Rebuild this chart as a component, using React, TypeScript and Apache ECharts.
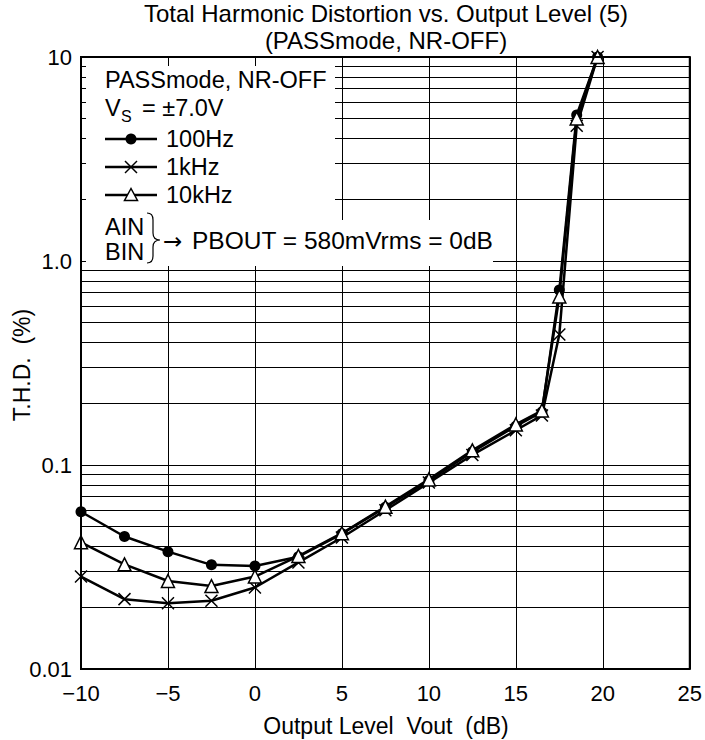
import React, { useEffect, useRef } from "react";
import * as echarts from "echarts";

// Output level (dB) at which each point was measured
const outputLevelDb = [-10, -7.5, -5, -2.5, 0, 2.5, 5, 7.5, 10, 12.5, 15, 16.5, 17.5, 18.5, 19.7];
// T.H.D. (%) series
const thd100Hz = [0.059, 0.0446, 0.0376, 0.0324, 0.032, 0.0355, 0.046, 0.062, 0.084, 0.116, 0.155, 0.182, 0.72, 5.2, 10];
const thd1kHz = [0.0284, 0.022, 0.021, 0.0216, 0.0251, 0.0333, 0.0441, 0.06, 0.082, 0.112, 0.148, 0.175, 0.436, 4.6, 10];
const thd10kHz = [0.0418, 0.0326, 0.027, 0.0255, 0.0284, 0.0358, 0.0463, 0.0625, 0.085, 0.118, 0.158, 0.185, 0.67, 5.0, 10];
// minor log grid lines
const minorGridValues = [
  0.02, 0.03, 0.04, 0.05, 0.06, 0.07, 0.08, 0.09,
  0.2, 0.3, 0.4, 0.5, 0.6, 0.7, 0.8, 0.9,
  2, 3, 4, 5, 6, 7, 8, 9,
];
const yTickLabels: Record<string, string> = { "0.01": "0.01", "0.1": "0.1", "1": "1.0", "10": "10" };

const FONT = '"Liberation Sans", Arial, Helvetica, sans-serif';

echarts.graphic.registerShape(
  "brace",
  echarts.graphic.extendPath("M0,0 Q6,0 6,7 L6,20 Q6,27 13,27 Q6,27 6,34 L6,43 Q6,50 0,50", {})
);

function txt(text: string, x: number, y: number, size: number, align = "left", extra: any = {}, family = FONT) {
  return {
    type: "text",
    x,
    y,
    z: 60,
    ...extra,
    style: {
      text,
      fill: "#000",
      font: `${size}px ${family}`,
      align,
      verticalAlign: "middle",
      textAlign: align,
      textVerticalAlign: "middle",
    },
  };
}

export default function App() {
  const ref = useRef<HTMLDivElement>(null);
  useEffect(() => {
    if (!ref.current) return;
    const chart = echarts.init(ref.current, null, { renderer: "svg" });
    const lineStyle = { color: "#000", width: 2.5 };
    chart.setOption({
      animation: false,
      backgroundColor: "#fff",
      textStyle: { fontFamily: FONT },
      grid: { left: 81, right: 14, top: 57, bottom: 71, show: true, borderColor: "#000", borderWidth: 2, backgroundColor: "transparent", z: 70 },
      xAxis: {
        type: "value",
        min: -10,
        max: 25,
        interval: 5,
        axisLine: { show: false },
        axisTick: { show: false },
        axisLabel: {
          color: "#000",
          fontSize: 22,
          fontFamily: FONT,
          margin: 13,
          formatter: (v: number) => (v < 0 ? "\u2212" + Math.abs(v) : String(v)),
        },
        splitLine: { show: true, lineStyle: { color: "#000", width: 1 } },
      },
      yAxis: {
        type: "log",
        logBase: 10,
        min: 0.01,
        max: 10,
        axisLine: { show: false },
        axisTick: { show: false },
        axisLabel: {
          color: "#000",
          fontSize: 22,
          fontFamily: FONT,
          margin: 9,
          formatter: (v: number) => yTickLabels[String(+v.toPrecision(3))] ?? String(v),
        },
        splitLine: { show: true, lineStyle: { color: "#000", width: 1 } },
        minorTick: { show: false },
        minorSplitLine: { show: false },
      },
      series: [
        {
          type: "line",
          data: [],
          z: 1,
          silent: true,
          markLine: {
            silent: true,
            symbol: ["none", "none"],
            label: { show: false },
            lineStyle: { color: "#000", width: 1, type: "solid" },
            data: minorGridValues.map((v) => ({ yAxis: v })),
          },
        },
        {
          name: "100Hz",
          type: "line",
          data: outputLevelDb.map((x, i) => [x, thd100Hz[i]]),
          symbol: "circle",
          symbolSize: 11,
          lineStyle,
          itemStyle: { color: "#000" },
          z: 3,
        },
        {
          name: "1kHz",
          type: "line",
          data: outputLevelDb.map((x, i) => [x, thd1kHz[i]]),
          symbol: "path://M0,0L10,10M10,0L0,10",
          symbolSize: 12,
          lineStyle,
          itemStyle: { color: "#000", borderColor: "#000", borderWidth: 1.5 },
          z: 4,
        },
        {
          name: "10kHz",
          type: "line",
          data: outputLevelDb.map((x, i) => [x, thd10kHz[i]]),
          symbol: "triangle",
          symbolSize: 13,
          lineStyle,
          itemStyle: { color: "#fff", borderColor: "#000", borderWidth: 1.5 },
          z: 5,
        },
      ],
      graphic: [
        { type: "rect", z: 50, shape: { x: 86, y: 66, width: 249, height: 160 }, style: { fill: "#fff" } },
        { type: "rect", z: 50, shape: { x: 86, y: 220, width: 407, height: 46 }, style: { fill: "#fff" } },
        txt("Total Harmonic Distortion vs. Output Level (5)", 386, 13, 24, "center"),
        txt("(PASSmode, NR-OFF)", 386, 40, 24, "center"),
        txt("Output Level  Vout  (dB)", 386, 726, 23, "center"),
        txt("T.H.D.  (%)", 22, 365, 23, "center", { rotation: Math.PI / 2 }),
        txt("PASSmode, NR-OFF", 105, 80, 23.5),
        txt("V", 105, 108, 23.5),
        txt("S", 121, 116, 16),
        txt("= \u00b17.0V", 142, 108, 23.5),
        { type: "line", z: 60, shape: { x1: 105, y1: 139, x2: 157, y2: 139 }, style: { stroke: "#000", lineWidth: 2.5 } },
        { type: "circle", z: 61, shape: { cx: 131, cy: 139, r: 5.5 }, style: { fill: "#000" } },
        txt("100Hz", 166, 139, 23.5),
        { type: "line", z: 60, shape: { x1: 105, y1: 167, x2: 157, y2: 167 }, style: { stroke: "#000", lineWidth: 2.5 } },
        { type: "line", z: 61, shape: { x1: 125, y1: 161, x2: 137, y2: 173 }, style: { stroke: "#000", lineWidth: 1.5 } },
        { type: "line", z: 61, shape: { x1: 137, y1: 161, x2: 125, y2: 173 }, style: { stroke: "#000", lineWidth: 1.5 } },
        txt("1kHz", 166, 167, 23.5),
        { type: "line", z: 60, shape: { x1: 105, y1: 195, x2: 157, y2: 195 }, style: { stroke: "#000", lineWidth: 2.5 } },
        { type: "polygon", z: 61, shape: { points: [[131, 188.5], [124.5, 200.5], [137.5, 200.5]] }, style: { fill: "#fff", stroke: "#000", lineWidth: 1.5 } },
        txt("10kHz", 166, 195, 23.5),
        txt("AIN", 105, 227, 23.5),
        txt("BIN", 105, 252, 23.5),
        { type: "brace", z: 60, x: 147, y: 213, style: { fill: "none", stroke: "#000", lineWidth: 1.2 } },
        txt("\u2192", 163, 241, 23, "left", {}, '"DejaVu Sans", sans-serif'),
        txt("PBOUT = 580mVrms = 0dB", 192, 240, 24.5),
      ],
    });
    return () => chart.dispose();
  }, []);
  return <div ref={ref} style={{ width: 705, height: 740, position: "absolute", left: 0, top: 0 }} />;
}
